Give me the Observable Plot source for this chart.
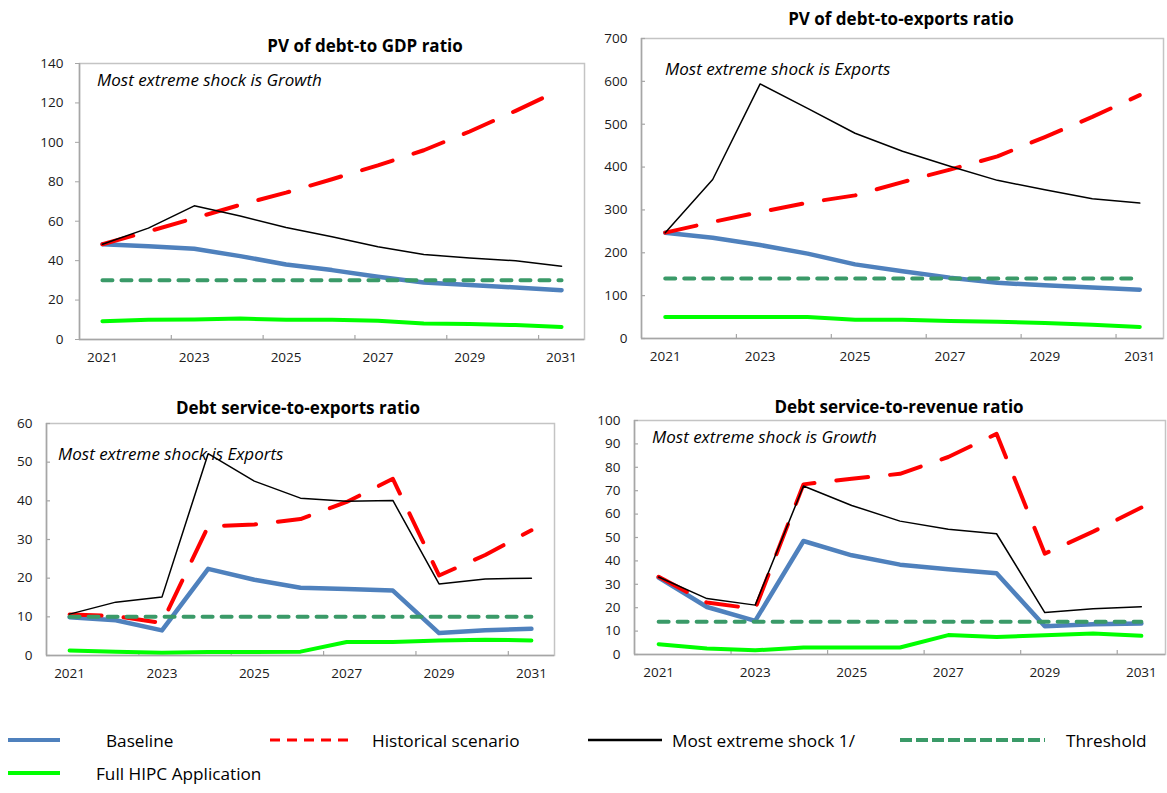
<!DOCTYPE html>
<html>
<head>
<meta charset="utf-8">
<script src="https://cdn.jsdelivr.net/npm/d3@7"></script>
<script src="https://cdn.jsdelivr.net/npm/@observablehq/plot@0.6"></script>
<style>
  body { margin: 0; background: #fff; font-family: "Open Sans", sans-serif; color: #000; }
  #root { position: relative; width: 1167px; height: 793px; overflow: hidden; background: #fff; }
  .panel { position: absolute; }
  .title { position: absolute; font-weight: bold; font-size: 17px; white-space: nowrap; transform: translate(-50%, -50%); }
  .note { position: absolute; font-style: italic; font-size: 17px; white-space: nowrap; transform: translateY(-50%); }
  .leg { position: absolute; font-size: 17.2px; white-space: nowrap; transform: translateY(-50%); }
  .sw { position: absolute; overflow: visible; }
</style>
</head>
<body>
<div id="root"></div>
<script>
// Projection years and labelled years on the horizontal axis
const years = [2021, 2022, 2023, 2024, 2025, 2026, 2027, 2028, 2029, 2030, 2031];
const labelYears = [2021, 2023, 2025, 2027, 2029, 2031];

// PV of debt-to-GDP ratio
const gdpBaseline   = [48.3, 47.3, 46.0, 42.3, 38.0, 35.2, 31.8, 28.9, 27.6, 26.4, 25.0];
const gdpHistorical = [48.3, 54.8, 61.5, 68.3, 74.5, 81.3, 88.3, 96.0, 105.5, 116.0, 127.0];
const gdpShock      = [48.3, 56.5, 67.8, 62.6, 56.8, 52.1, 47.0, 43.1, 41.4, 39.9, 37.2];
const gdpThreshold  = 30;
const gdpHipc       = [9.3, 10.0, 10.1, 10.6, 10.0, 10.0, 9.5, 8.1, 7.8, 7.3, 6.4];

// PV of debt-to-exports ratio
const expBaseline   = [247, 235, 218, 198, 173, 157, 142, 130, 124, 119, 114];
const expHistorical = [247, 272, 295, 317, 334, 365, 394, 425, 470, 517, 568];
const expShock      = [247, 371, 594, 537, 479, 437, 402, 369, 347, 326, 316];
const expThreshold  = 140;
const expHipc       = [50, 50, 50, 50, 44, 44, 41, 39, 36, 32, 27];

// Debt service-to-exports ratio
const dsxBaseline   = [9.9, 9.1, 6.5, 22.4, 19.6, 17.5, 17.2, 16.8, 5.8, 6.5, 6.9];
const dsxHistorical = [10.6, 10.2, 8.4, 33.4, 33.9, 35.3, 39.7, 45.7, 20.7, 26.0, 32.4];
const dsxShock      = [10.7, 13.8, 15.1, 52.2, 45.1, 40.7, 39.9, 40.1, 18.5, 19.8, 20.0];
const dsxThreshold  = 10;
const dsxHipc       = [1.3, 1.0, 0.7, 0.9, 0.9, 1.0, 3.5, 3.5, 3.9, 4.1, 3.9];

// Debt service-to-revenue ratio
const dsrBaseline   = [32.9, 20.3, 14.4, 48.5, 42.4, 38.4, 36.4, 34.7, 12.1, 12.9, 13.3];
const dsrHistorical = [33.2, 22.2, 19.5, 72.7, 75.1, 77.2, 84.4, 94.3, 43.1, 52.5, 62.8];
const dsrShock      = [33.1, 23.9, 21.1, 72.0, 63.7, 57.0, 53.5, 51.6, 17.9, 19.6, 20.4];
const dsrThreshold  = 14;
const dsrHipc       = [4.4, 2.6, 1.8, 3.0, 3.0, 3.0, 8.3, 7.5, 8.2, 9.0, 8.0];

// Series styling
const STYLE = {
  baseline:   { stroke: "#4f81bd", strokeWidth: 4.5 },
  historical: { stroke: "#ff0000", strokeWidth: 4, strokeDasharray: "32,22", strokeLinecap: "round" },
  shock:      { stroke: "#000000", strokeWidth: 1.5 },
  threshold:  { stroke: "#3a9a68", strokeWidth: 4, strokeDasharray: "10,9", strokeLinecap: "round" },
  hipc:       { stroke: "#00ff00", strokeWidth: 4 }
};

const panels = [
  { title: "PV of debt-to GDP ratio", tx: 365, ty: 45,
    note: "Most extreme shock is Growth", nx: 97, ny: 79,
    frame: { left: 79, top: 63, width: 505, height: 276 },
    yMax: 140, yStep: 20, outerTicks: true,
    series: { baseline: gdpBaseline, historical: gdpHistorical, shock: gdpShock, threshold: gdpThreshold, hipc: gdpHipc } },
  { title: "PV of debt-to-exports ratio", tx: 901, ty: 18,
    note: "Most extreme shock is Exports", nx: 665, ny: 68,
    frame: { left: 641, top: 38, width: 522, height: 300 },
    yMax: 700, yStep: 100, outerTicks: false,
    series: { baseline: expBaseline, historical: expHistorical, shock: expShock, threshold: expThreshold, hipc: expHipc } },
  { title: "Debt service-to-exports ratio", tx: 298, ty: 407,
    note: "Most extreme shock is Exports", nx: 58, ny: 453,
    frame: { left: 46, top: 423, width: 508, height: 232 },
    yMax: 60, yStep: 10, outerTicks: false,
    series: { baseline: dsxBaseline, historical: dsxHistorical, shock: dsxShock, threshold: dsxThreshold, hipc: dsxHipc } },
  { title: "Debt service-to-revenue ratio", tx: 899, ty: 406,
    note: "Most extreme shock is Growth", nx: 652, ny: 436,
    frame: { left: 634, top: 420, width: 531, height: 234 },
    yMax: 100, yStep: 10, outerTicks: false,
    series: { baseline: dsrBaseline, historical: dsrHistorical, shock: dsrShock, threshold: dsrThreshold, hipc: dsrHipc } }
];

const root = document.getElementById("root");
const axisGray = "#a6a6a6";
const frameGray = "#c4c4c4";

function rows(values) {
  return years.map((year, i) => ({ year, value: Array.isArray(values) ? values[i] : values }));
}

for (const p of panels) {
  const mL = 45, mR = 3, mT = 6, mB = 32;
  const f = p.frame;
  const yTicks = d3.range(0, p.yMax + p.yStep / 2, p.yStep);
  const bounds = [2022.5, 2024.5, 2026.5, 2028.5, 2030.5];
  const order = ["baseline", "historical", "shock", "threshold", "hipc"];

  const chart = Plot.plot({
    width: mL + f.width + mR,
    height: mT + f.height + mB,
    marginLeft: mL, marginRight: mR, marginTop: mT, marginBottom: mB,
    style: { fontFamily: "Open Sans, sans-serif", fontSize: "13.5px", color: "#1a1a1a", background: "transparent", overflow: "visible" },
    x: { type: "linear", domain: [2020.5, 2031.5] },
    y: { domain: [0, p.yMax] },
    marks: [
      Plot.frame({ stroke: frameGray, strokeWidth: 1.5 }),
      // category tick marks pointing into the plot area
      Plot.ruleX(bounds, { x: d => d, insetTop: f.height - 4, stroke: axisGray, strokeWidth: 1.2 }),
      p.outerTicks
        ? Plot.axisY({ ticks: yTicks, tickSize: 4, tickPadding: 12, stroke: axisGray, tickFormat: d => String(d), fill: "#1a1a1a", label: null })
        : Plot.axisY({ ticks: yTicks, tickSize: 0, tickPadding: 14, tickFormat: d => String(d), fill: "#1a1a1a", label: null }),
      p.outerTicks ? null : Plot.ruleY(yTicks, { y: d => d, insetRight: f.width - 4, stroke: axisGray, strokeWidth: 1.2 }),
      Plot.axisX({ ticks: labelYears, tickSize: 0, tickPadding: 13, tickFormat: d => String(d), fill: "#1a1a1a", label: null }),
      ...order.map(k => Plot.line(rows(p.series[k]), { x: "year", y: "value", strokeLinejoin: "round", ...STYLE[k] })),
      Plot.ruleX([2020.5], { stroke: axisGray, strokeWidth: 1.5 }),
      Plot.ruleY([0], { stroke: axisGray, strokeWidth: 1.5 })
    ]
  });
  chart.classList.add("panel");
  chart.style.left = (f.left - mL) + "px";
  chart.style.top = (f.top - mT) + "px";
  root.appendChild(chart);

  const t = document.createElement("div");
  t.className = "title";
  t.textContent = p.title;
  t.style.left = p.tx + "px";
  t.style.top = p.ty + "px";
  root.appendChild(t);

  const n = document.createElement("div");
  n.className = "note";
  n.textContent = p.note;
  n.style.left = p.nx + "px";
  n.style.top = p.ny + "px";
  root.appendChild(n);
}

// Legend
const legendItems = [
  { label: "Baseline", key: "baseline", x1: 8, x2: 60, tx: 106, y: 740, dash: null, width: 4 },
  { label: "Historical scenario", key: "historical", x1: 270, x2: 355, tx: 372, y: 740, dash: "10,7", width: 3 },
  { label: "Most extreme shock 1/", key: "shock", x1: 588, x2: 662, tx: 672, y: 740, dash: null, width: 2.5 },
  { label: "Threshold", key: "threshold", x1: 900, x2: 1045, tx: 1066, y: 740, dash: "12,4", width: 4 },
  { label: "Full HIPC Application", key: "hipc", x1: 8, x2: 60, tx: 96, y: 773, dash: null, width: 4 }
];
const NS = "http://www.w3.org/2000/svg";
for (const it of legendItems) {
  const svg = document.createElementNS(NS, "svg");
  svg.setAttribute("class", "sw");
  svg.setAttribute("width", it.x2 - it.x1);
  svg.setAttribute("height", 10);
  svg.style.left = it.x1 + "px";
  svg.style.top = (it.y - 5) + "px";
  const line = document.createElementNS(NS, "line");
  line.setAttribute("x1", 0); line.setAttribute("x2", it.x2 - it.x1);
  line.setAttribute("y1", 5); line.setAttribute("y2", 5);
  line.setAttribute("stroke", STYLE[it.key].stroke);
  line.setAttribute("stroke-width", it.width);
  if (it.dash) line.setAttribute("stroke-dasharray", it.dash);
  line.setAttribute("stroke-linecap", "butt");
  svg.appendChild(line);
  root.appendChild(svg);

  const d = document.createElement("div");
  d.className = "leg";
  d.textContent = it.label;
  d.style.left = it.tx + "px";
  d.style.top = it.y + "px";
  root.appendChild(d);
}
</script>
</body>
</html>
